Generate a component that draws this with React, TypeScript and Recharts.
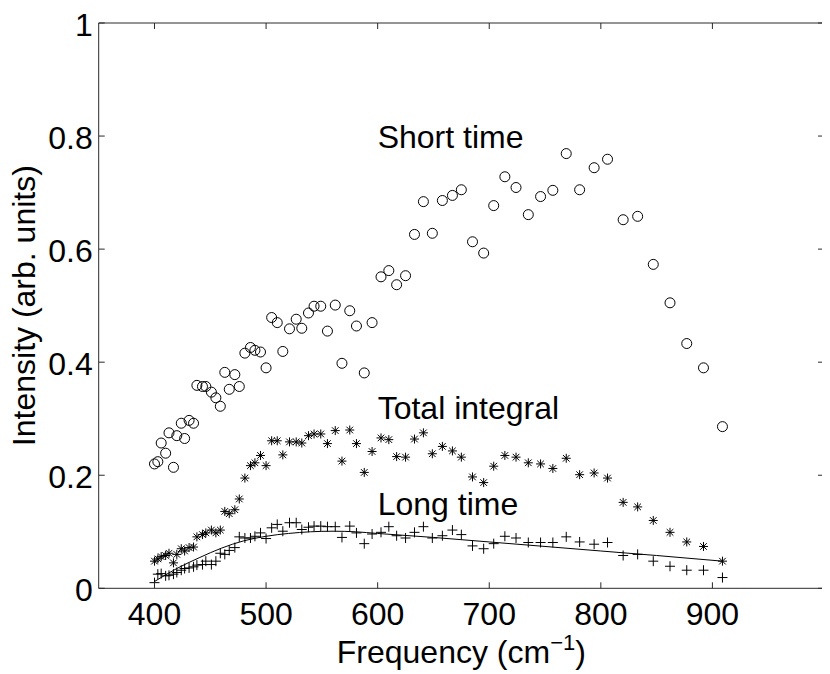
import React from 'react';
import { ComposedChart, XAxis, YAxis, Scatter, Line, ReferenceLine, ReferenceDot, Label } from 'recharts';

const frequencies = [
  400, 403, 406, 410, 413, 417, 420, 424, 427, 431, 435, 438, 443, 446, 451, 455, 459, 463, 467, 472,
  476, 481, 486, 490, 495, 500, 505, 510, 515, 521, 527, 532, 538, 543, 549, 555, 562, 568, 575, 581,
  588, 595, 603, 610, 617, 625, 633, 641, 649, 658, 667, 675, 685, 695, 704, 714, 724, 735, 746, 757,
  769, 781, 794, 806, 820, 833, 847, 862, 877, 892, 909,
];

const shortTime = [
  0.220, 0.224, 0.257, 0.239, 0.275, 0.214, 0.270, 0.292, 0.265, 0.297, 0.292, 0.359, 0.357, 0.357, 0.347, 0.337, 0.322, 0.382, 0.352, 0.378,
  0.357, 0.416, 0.426, 0.421, 0.418, 0.390, 0.479, 0.470, 0.419, 0.459, 0.476, 0.460, 0.487, 0.499, 0.499, 0.455, 0.501, 0.398, 0.491, 0.464,
  0.381, 0.470, 0.551, 0.562, 0.537, 0.553, 0.626, 0.684, 0.628, 0.686, 0.695, 0.705, 0.613, 0.593, 0.677, 0.728, 0.709, 0.661, 0.693, 0.704,
  0.769, 0.705, 0.744, 0.759, 0.652, 0.658, 0.573, 0.505, 0.433, 0.390, 0.286,
];

const totalIntegral = [
  0.048, 0.052, 0.056, 0.058, 0.062, 0.045, 0.060, 0.070, 0.066, 0.072, 0.073, 0.091, 0.095, 0.098, 0.103, 0.098, 0.103, 0.136, 0.132, 0.139,
  0.158, 0.195, 0.217, 0.222, 0.235, 0.217, 0.261, 0.261, 0.236, 0.259, 0.259, 0.257, 0.270, 0.273, 0.273, 0.256, 0.279, 0.225, 0.280, 0.256,
  0.205, 0.242, 0.266, 0.263, 0.233, 0.232, 0.264, 0.275, 0.238, 0.251, 0.243, 0.232, 0.197, 0.187, 0.216, 0.235, 0.232, 0.222, 0.220, 0.212,
  0.230, 0.201, 0.204, 0.195, 0.152, 0.144, 0.120, 0.099, 0.082, 0.074, 0.048,
];

const longTime = [
  0.010, 0.025, 0.026, 0.022, 0.023, 0.025, 0.028, 0.032, 0.035, 0.036, 0.038, 0.041, 0.042, 0.048, 0.042, 0.048, 0.062, 0.060, 0.067, 0.072,
  0.091, 0.089, 0.089, 0.092, 0.098, 0.088, 0.107, 0.113, 0.101, 0.116, 0.116, 0.104, 0.108, 0.110, 0.110, 0.109, 0.109, 0.090, 0.110, 0.098,
  0.079, 0.096, 0.099, 0.109, 0.093, 0.089, 0.099, 0.109, 0.089, 0.093, 0.103, 0.095, 0.075, 0.070, 0.079, 0.092, 0.089, 0.081, 0.081, 0.081,
  0.091, 0.082, 0.078, 0.081, 0.058, 0.060, 0.048, 0.039, 0.032, 0.032, 0.019,
];

const fitFrequencies = [400, 420, 440, 460, 480, 500, 520, 540, 560, 580, 600, 650, 700, 750, 800, 850, 909];
const fitValues = [0.012, 0.035, 0.054, 0.071, 0.084, 0.092, 0.097, 0.100, 0.101, 0.100, 0.097, 0.090, 0.082, 0.074, 0.066, 0.058, 0.048];

const xTicks = [400, 500, 600, 700, 800, 900];
const yTicks = [0, 0.2, 0.4, 0.6, 0.8, 1];

const seriesLabels = [
  { text: 'Short time', x: 600, y: 0.8 },
  { text: 'Total integral', x: 600, y: 0.32 },
  { text: 'Long time', x: 600, y: 0.15 },
];

const FONT = '"Liberation Sans", Arial, Helvetica, sans-serif';
const AXIS_COLOR = '#2a2a2a';
const W = 822;
const H = 666;
const MARGIN = { top: 15, right: 6, left: 30.7, bottom: 25.7 };
const Y_AXIS_W = 60;
const X_AXIS_H = 60;
const PLOT = {
  left: MARGIN.left + Y_AXIS_W,
  top: MARGIN.top,
  right: W - MARGIN.right,
  bottom: H - MARGIN.bottom - X_AXIS_H,
};

const shortData = frequencies.map((f, i) => ({ x: f, y: shortTime[i] }));
const totalData = frequencies.map((f, i) => ({ x: f, y: totalIntegral[i] }));
const longData = frequencies.map((f, i) => ({ x: f, y: longTime[i] }));
const fitData = fitFrequencies.map((f, i) => ({ x: f, y: fitValues[i] }));

const CircleMarker = (p: any) => (
  <circle cx={p.cx} cy={p.cy} r={5} fill="none" stroke="#000" strokeWidth={1} />
);

const StarMarker = (p: any) => {
  const a = 4.5;
  const d = 3.3;
  return (
    <g stroke="#000" strokeWidth={1}>
      <line x1={p.cx - a} x2={p.cx + a} y1={p.cy} y2={p.cy} />
      <line x1={p.cx} x2={p.cx} y1={p.cy - a} y2={p.cy + a} />
      <line x1={p.cx - d} x2={p.cx + d} y1={p.cy - d} y2={p.cy + d} />
      <line x1={p.cx - d} x2={p.cx + d} y1={p.cy + d} y2={p.cy - d} />
    </g>
  );
};

const PlusMarker = (p: any) => {
  const a = 5;
  return (
    <g stroke="#000" strokeWidth={1}>
      <line x1={p.cx - a} x2={p.cx + a} y1={p.cy} y2={p.cy} />
      <line x1={p.cx} x2={p.cx} y1={p.cy - a} y2={p.cy + a} />
    </g>
  );
};

const XTick = (props: any) => {
  const { x, payload } = props;
  return (
    <g>
      <line x1={x} x2={x} y1={PLOT.bottom} y2={PLOT.bottom - 6} stroke={AXIS_COLOR} />
      <line x1={x} x2={x} y1={PLOT.top} y2={PLOT.top + 6} stroke={AXIS_COLOR} />
      <text x={x} y={PLOT.bottom + 36.7} textAnchor="middle" fontSize={32} fontFamily={FONT} fill="#000">
        {String(payload.value)}
      </text>
    </g>
  );
};

const YTick = (props: any) => {
  const { y, payload } = props;
  return (
    <g>
      <line x1={PLOT.left} x2={PLOT.left + 6} y1={y} y2={y} stroke={AXIS_COLOR} />
      <line x1={PLOT.right - 6} x2={PLOT.right} y1={y} y2={y} stroke={AXIS_COLOR} />
      <text x={PLOT.left - 6} y={y + 12.5} textAnchor="end" fontSize={32} fontFamily={FONT} fill="#000">
        {String(payload.value)}
      </text>
    </g>
  );
};

const XTitle = () => {
  const cx = (PLOT.left + PLOT.right) / 2;
  return (
    <text x={cx} y={655} textAnchor="middle" fontSize={32} fontFamily={FONT} fill="#000">
      Frequency (cm
      <tspan fontSize={22} dy={-13}>−1</tspan>
      <tspan dy={13}>)</tspan>
    </text>
  );
};

const YTitle = () => {
  const cy = (PLOT.top + PLOT.bottom) / 2;
  const x = 26.5;
  return (
    <g transform={`translate(${x}, ${cy}) rotate(-90)`}>
      <text x={0} y={0} textAnchor="middle" fontSize={32} fontFamily={FONT} fill="#000">
        Intensity (arb. units)
      </text>
    </g>
  );
};

export default function App() {
  return (
    <div style={{ width: W, height: H }}>
      <ComposedChart width={W} height={H} margin={MARGIN}>
        <XAxis
          type="number"
          dataKey="x"
          domain={[350, 1000]}
          ticks={xTicks}
          allowDataOverflow
          height={X_AXIS_H}
          tickLine={false}
          axisLine={{ stroke: AXIS_COLOR, strokeWidth: 1 }}
          tick={<XTick />}
          interval={0}
        >
          <Label content={<XTitle />} />
        </XAxis>
        <YAxis
          type="number"
          dataKey="y"
          domain={[0, 1]}
          ticks={yTicks}
          allowDataOverflow
          width={Y_AXIS_W}
          tickLine={false}
          axisLine={{ stroke: AXIS_COLOR, strokeWidth: 1 }}
          tick={<YTick />}
          interval={0}
        >
          <Label content={<YTitle />} />
        </YAxis>
        <ReferenceLine x={1000} stroke={AXIS_COLOR} strokeWidth={1} />
        <ReferenceLine y={1} stroke={AXIS_COLOR} strokeWidth={1} />
        <Scatter data={shortData} dataKey="y" shape={CircleMarker} isAnimationActive={false} />
        <Scatter data={totalData} dataKey="y" shape={StarMarker} isAnimationActive={false} />
        <Scatter data={longData} dataKey="y" shape={PlusMarker} isAnimationActive={false} />
        <Line
          data={fitData}
          dataKey="y"
          type="monotone"
          dot={false}
          activeDot={false}
          stroke="#000"
          strokeWidth={1}
          isAnimationActive={false}
        />
        {seriesLabels.map((l) => (
          <ReferenceDot
            key={l.text}
            x={l.x}
            y={l.y}
            r={0}
            shape={(p: any) => (
              <text x={p.cx} y={p.cy + 11.5} fontSize={32} fontFamily={FONT} fill="#000">
                {l.text}
              </text>
            )}
          />
        ))}
      </ComposedChart>
    </div>
  );
}
